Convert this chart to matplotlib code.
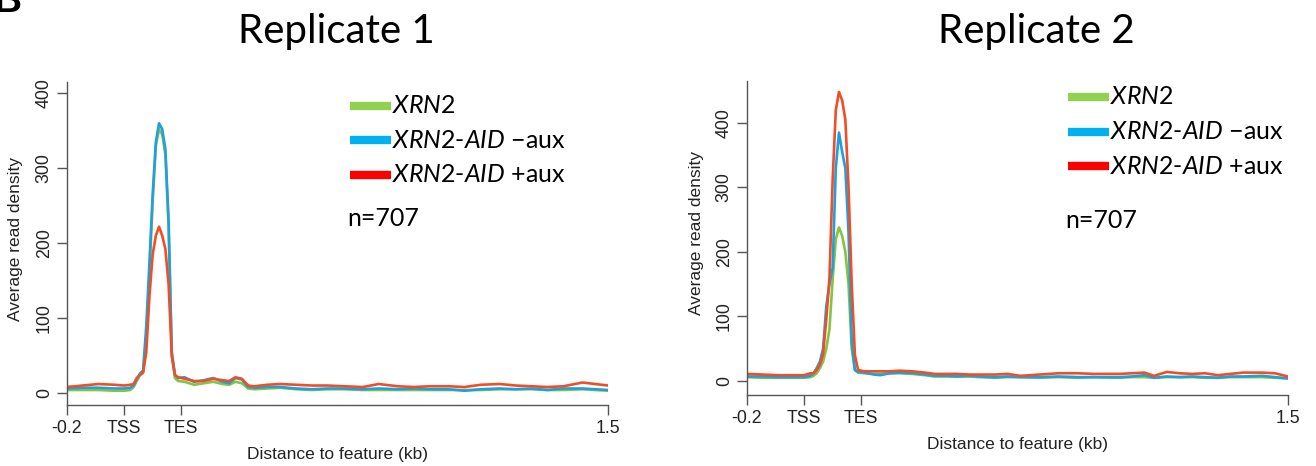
import numpy as np
import matplotlib
matplotlib.use("Agg")
from matplotlib import pyplot as plt
from matplotlib.lines import Line2D

plt.rcParams['font.family'] = ['Liberation Sans', 'DejaVu Sans']
plt.rcParams['mathtext.fontset'] = 'custom'
plt.rcParams['mathtext.rm'] = 'Lato'
plt.rcParams['mathtext.it'] = 'Lato:italic'

# ---- data ----
tick_pos = [-0.2, -0.02, 0.158, 1.5]
tick_labels = ['-0.2', 'TSS', 'TES', '1.5']

x1 = [-0.2, -0.15, -0.1, -0.05, -0.02, 0.0, 0.01, 0.02, 0.03, 0.04, 0.05, 0.06,
      0.07, 0.08, 0.09, 0.10, 0.11, 0.12, 0.13, 0.14, 0.15, 0.17, 0.2, 0.23,
      0.26, 0.29, 0.31, 0.33, 0.35, 0.37, 0.39, 0.43, 0.47, 0.52, 0.57, 0.62,
      0.67, 0.73, 0.78, 0.84, 0.89, 0.94, 1.0, 1.05, 1.1, 1.16, 1.21, 1.26,
      1.31, 1.36, 1.42, 1.46, 1.5]
rep1_xrn2 = [4, 4, 4, 3, 3, 4, 8, 16, 24, 28, 75, 160, 255, 330, 352, 345, 318,
             222, 50, 20, 16, 15, 11, 13, 15, 12, 11, 15, 13, 6, 5, 6, 7, 5, 4,
             5, 5, 4, 4, 4, 4, 4, 4, 4, 4, 5, 5, 5, 4, 4, 5, 4, 3]
rep1_minus = [6, 7, 7, 6, 6, 7, 10, 18, 26, 30, 90, 175, 265, 335, 360, 352, 325,
              230, 55, 24, 20, 21, 15, 17, 20, 15, 13, 20, 18, 8, 7, 8, 8, 6, 5,
              6, 6, 5, 6, 5, 6, 5, 5, 3, 5, 6, 5, 6, 4, 6, 6, 5, 4]
rep1_plus = [8, 10, 12, 11, 10, 11, 12, 20, 24, 27, 55, 130, 185, 210, 222, 210,
             192, 145, 50, 24, 21, 19, 16, 16, 19, 17, 16, 21, 19, 10, 9, 11, 12,
             11, 10, 10, 9, 8, 12, 9, 8, 9, 9, 8, 11, 12, 10, 9, 8, 9, 14, 12, 10]

x2 = [-0.2, -0.15, -0.1, -0.05, -0.02, 0.0, 0.01, 0.02, 0.03, 0.04, 0.05, 0.06,
      0.07, 0.08, 0.09, 0.10, 0.11, 0.12, 0.13, 0.14, 0.15, 0.17, 0.2, 0.22,
      0.25, 0.28, 0.32, 0.36, 0.39, 0.43, 0.46, 0.5, 0.53, 0.58, 0.62, 0.66,
      0.72, 0.78, 0.84, 0.89, 0.94, 0.97, 1.01, 1.05, 1.08, 1.12, 1.16, 1.2,
      1.24, 1.28, 1.32, 1.36, 1.42, 1.46, 1.5]
rep2_xrn2 = [6, 5, 5, 5, 5, 6, 8, 12, 20, 30, 50, 80, 157, 220, 238, 225, 200,
             150, 50, 17, 13, 12, 11, 11, 12, 12, 11, 9, 7, 7, 7, 7, 6, 5, 6, 6,
             5, 6, 5, 6, 5, 5, 6, 6, 5, 6, 6, 6, 5, 5, 6, 6, 6, 5, 4]
rep2_minus = [7, 7, 6, 6, 6, 8, 12, 20, 30, 50, 115, 150, 175, 330, 385, 355,
              330, 230, 60, 17, 14, 13, 10, 9, 12, 13, 12, 10, 8, 8, 7, 8, 7, 6,
              7, 6, 6, 7, 6, 6, 6, 6, 7, 9, 5, 7, 6, 7, 6, 5, 7, 7, 8, 6, 4]
rep2_plus = [11, 10, 9, 9, 9, 12, 12, 17, 25, 42, 95, 160, 311, 420, 448, 435,
             405, 300, 150, 40, 17, 15, 15, 15, 15, 16, 15, 13, 11, 11, 11, 10,
             10, 10, 11, 8, 10, 12, 12, 11, 11, 11, 12, 13, 8, 14, 12, 11, 12, 9,
             11, 13, 13, 12, 7]

line_colors = ['#86C440', '#1EA0E0', '#F04E27']
legend_colors = ['#92D050', '#00B0F0', '#FF0000']
legend_labels = [r'$\mathit{XRN2}$',
                 r'$\mathit{XRN2}$-$\mathit{AID}$ $-$aux',
                 r'$\mathit{XRN2}$-$\mathit{AID}$ +aux']

W, H = 1316, 466
fig = plt.figure(figsize=(W / 100, H / 100), dpi=100)


def fx(px):
    return px / W


def fy(py):
    return 1 - py / H


def panel(rect, xs, series, ylim, yticks, title, title_x, leg_x, leg_y, n_xy, ylab_x):
    ax = fig.add_axes(rect)
    for ys, c in zip(series, line_colors):
        ax.plot(xs, ys, color=c, lw=1.9, solid_joinstyle='round')
    ax.set_xlim(-0.2, 1.5)
    ax.set_ylim(*ylim)
    ax.set_xticks(tick_pos)
    ax.set_xticklabels(tick_labels, fontsize=12.8)
    ax.set_yticks(yticks)
    ax.set_yticklabels([str(t) for t in yticks], rotation=90, va='center', fontsize=12.8)
    for s in ['top', 'right']:
        ax.spines[s].set_visible(False)
    for s in ['left', 'bottom']:
        ax.spines[s].set_color('#555555')
        ax.spines[s].set_linewidth(1.0)
    ax.tick_params(colors='#555555', length=7, width=1.0, labelcolor='#222222')
    ax.tick_params(axis='y', pad=3)
    ax.tick_params(axis='x', pad=4)
    ax.set_xlabel('Distance to feature (kb)', fontsize=12.5, color='#222222', labelpad=7)
    fig.text(fx(ylab_x), (rect[1] + rect[1] + rect[3]) / 2 + 0.01, 'Average read density',
             rotation=90, ha='center', va='center', fontsize=12.5, color='#222222')

    fig.text(fx(title_x), fy(31), title, ha='center', va='center',
             fontsize=29, family='Lato')
    for i, (lab, c) in enumerate(zip(legend_labels, legend_colors)):
        yy = fy(leg_y + i * 34.5)
        fig.add_artist(Line2D([fx(leg_x), fx(leg_x + 41)], [yy, yy], color=c,
                              lw=6, solid_capstyle='butt', transform=fig.transFigure))
        fig.text(fx(leg_x + 42), yy, lab, ha='left', va='center',
                 fontsize=18, family='Lato')
    fig.text(fx(n_xy[0]), fy(n_xy[1]), 'n=707', ha='left', va='center',
             fontsize=18, family='Lato')
    return ax


panel([fx(66.7), fy(405), fx(608) - fx(66.7), fy(82) - fy(405)],
      x1, [rep1_xrn2, rep1_minus, rep1_plus], (-16, 415), [0, 100, 200, 300, 400],
      'Replicate 1', 336, 350, 106, (347, 218), 16)

panel([fx(746.7), fy(395), fx(1287.7) - fx(746.7), fy(81) - fy(395)],
      x2, [rep2_xrn2, rep2_minus, rep2_plus], (-21.7, 465), [0, 100, 200, 300, 400],
      'Replicate 2', 1036, 1068, 97, (1065, 220), 696)

fig.text(fx(-7), fy(12), 'B', ha='left', va='baseline', fontsize=28,
         weight='bold', family='Liberation Sans')

fig.savefig('out.png', dpi=100)
